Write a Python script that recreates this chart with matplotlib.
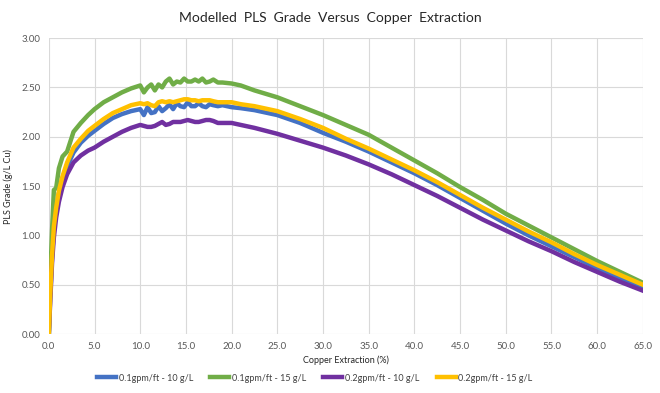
import matplotlib
matplotlib.use("Agg")
import matplotlib.pyplot as plt

# Copper extraction (%) - shared x values
extraction = [0, 0.15, 0.35, 0.55, 0.8, 1.1, 1.5, 2.0, 2.7, 3.5, 4.3, 5.0, 6.0, 7.0, 8.0,
              9.0, 10.0, 10.4, 10.8, 11.2, 11.6, 12.0, 12.4, 12.8, 13.2, 13.6, 14.0, 14.4,
              14.8, 15.2, 15.6, 16.0, 16.4, 16.8, 17.2, 17.6, 18.0, 18.5, 19.0, 20, 21,
              22.5, 25, 27.5, 30, 32.5, 35, 37.5, 40, 42.5, 45, 47.5, 50, 52.5, 55, 57.5,
              60, 62.5, 65]

# PLS grade (g/L Cu) per scenario
grade_01_10 = [0, 0.38, 0.78, 1.06, 1.26, 1.43, 1.58, 1.70, 1.84, 1.94, 2.01, 2.06, 2.13,
               2.19, 2.23, 2.26, 2.28, 2.22, 2.30, 2.24, 2.25, 2.31, 2.26, 2.29, 2.33, 2.28,
               2.34, 2.31, 2.30, 2.35, 2.31, 2.31, 2.34, 2.31, 2.30, 2.33, 2.32, 2.31, 2.32,
               2.30, 2.29, 2.27, 2.22, 2.14, 2.04, 1.95, 1.85, 1.74, 1.63, 1.51, 1.38, 1.25,
               1.12, 1.00, 0.89, 0.78, 0.67, 0.57, 0.47]
grade_01_15 = [0, 0.55, 1.05, 1.46, 1.48, 1.68, 1.80, 1.85, 2.05, 2.14, 2.22, 2.28, 2.35,
               2.40, 2.45, 2.49, 2.52, 2.45, 2.50, 2.53, 2.47, 2.53, 2.50, 2.56, 2.59, 2.53,
               2.56, 2.55, 2.59, 2.56, 2.56, 2.58, 2.56, 2.59, 2.55, 2.56, 2.58, 2.55, 2.55,
               2.54, 2.52, 2.47, 2.40, 2.31, 2.22, 2.12, 2.02, 1.89, 1.76, 1.63, 1.49, 1.36,
               1.22, 1.10, 0.98, 0.86, 0.74, 0.63, 0.52]
grade_02_10 = [0, 0.33, 0.72, 0.98, 1.18, 1.34, 1.49, 1.62, 1.74, 1.81, 1.86, 1.89, 1.95,
               2.00, 2.05, 2.09, 2.12, 2.11, 2.10, 2.10, 2.11, 2.13, 2.15, 2.12, 2.13, 2.15,
               2.15, 2.15, 2.16, 2.17, 2.16, 2.15, 2.15, 2.16, 2.17, 2.17, 2.16, 2.14, 2.14,
               2.14, 2.12, 2.09, 2.03, 1.96, 1.89, 1.81, 1.72, 1.62, 1.51, 1.40, 1.28, 1.16,
               1.05, 0.94, 0.84, 0.73, 0.63, 0.53, 0.44]
grade_02_15 = [0, 0.40, 0.80, 1.09, 1.28, 1.45, 1.60, 1.74, 1.89, 1.98, 2.06, 2.11, 2.18,
               2.24, 2.28, 2.32, 2.34, 2.33, 2.34, 2.32, 2.31, 2.35, 2.36, 2.35, 2.36, 2.35,
               2.36, 2.37, 2.38, 2.38, 2.37, 2.37, 2.36, 2.37, 2.37, 2.37, 2.36, 2.35, 2.35,
               2.35, 2.33, 2.31, 2.26, 2.18, 2.09, 1.98, 1.88, 1.77, 1.66, 1.54, 1.41, 1.28,
               1.16, 1.04, 0.93, 0.81, 0.70, 0.60, 0.50]

labels = ["0.1gpm/ft - 10 g/L", "0.1gpm/ft - 15 g/L", "0.2gpm/ft - 10 g/L", "0.2gpm/ft - 15 g/L"]
colors = ["#4472C4", "#70AD47", "#7030A0", "#FFC000"]
series = [grade_01_10, grade_01_15, grade_02_10, grade_02_15]

x_ticks = [0, 5, 10, 15, 20, 25, 30, 35, 40, 45, 50, 55, 60, 65]
y_ticks = [0, 0.5, 1.0, 1.5, 2.0, 2.5, 3.0]

plt.rcParams["font.family"] = ["Lato", "DejaVu Sans"]

fig = plt.figure(figsize=(6.6, 3.93), dpi=100)
ax = fig.add_axes([0.074, 0.150, 0.900, 0.753])

for y, c, lab in zip(series, colors, labels):
    ax.plot(extraction, y, color=c, linewidth=3.2, label=lab, solid_joinstyle="round")

ax.set_xlim(0, 65)
ax.set_ylim(0, 3.0)
ax.set_xticks(x_ticks)
ax.set_xticklabels([f"{t:.1f}" for t in x_ticks])
ax.set_yticks(y_ticks)
ax.set_yticklabels([f"{t:.2f}" for t in y_ticks])
ax.tick_params(axis="both", length=0, labelsize=7, colors="#595959", pad=6)
ax.grid(True, color="#D9D9D9", linewidth=0.8)
ax.set_axisbelow(True)
for s in ax.spines.values():
    s.set_visible(False)

ax.set_xlabel("Copper Extraction (%)", fontsize=6.5, color="#262626", labelpad=3)
ax.set_ylabel("PLS Grade (g/L Cu)", fontsize=6.5, color="#262626", labelpad=6)
fig.text(0.5, 0.955, "Modelled  PLS  Grade  Versus  Copper  Extraction",
         ha="center", va="center", fontsize=10, color="#262626")

leg = fig.legend(loc="center", bbox_to_anchor=(0.477, 0.038), ncol=4, frameon=False,
                 fontsize=6.5, handlelength=2.1, columnspacing=1.9, handletextpad=0.3,
                 labelcolor="#404040")
for line in leg.get_lines():
    line.set_linewidth(3.2)

fig.savefig("out.png", dpi=100)
